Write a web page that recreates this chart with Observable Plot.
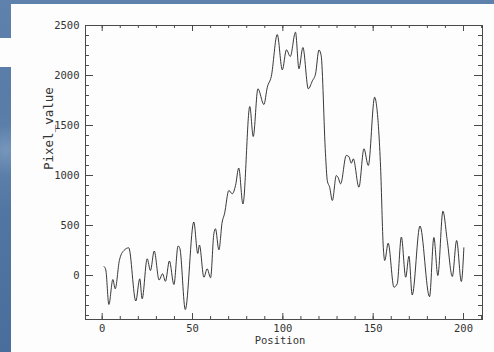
<!DOCTYPE html>
<html><head><meta charset="utf-8">
<script src="https://cdn.jsdelivr.net/npm/d3@7"></script>
<script src="https://cdn.jsdelivr.net/npm/@observablehq/plot@0.6"></script>
<style>
html,body{margin:0;padding:0;background:#fdfdfd;}
#bg{position:relative;width:494px;height:352px;overflow:hidden;
  background:radial-gradient(circle at 6px 150px,#7796bb 0,#5b7fa9 25px,rgba(0,0,0,0) 60px),linear-gradient(180deg,#5e82ac,#4a6e9b);}
#panel{position:absolute;left:11px;top:4px;right:0;bottom:0;background:#fdfdfd;}
#notch{position:absolute;left:0;top:38px;width:11px;height:29px;background:#fdfdfd;}
#chart{position:absolute;left:0;top:0;}
</style></head><body>
<div id="bg"><div id="panel"></div><div id="notch"></div><div id="chart"></div></div>
<script>
// Data (position, pixel value)
const positions = [1, 2, 3.7, 5.9, 7.2, 9.5, 12, 14.7, 18.6, 20.8, 22.1, 24.9, 26.7, 28.8, 31.5, 33.4, 35, 37.2, 39.7, 42, 43, 46, 50.7, 52.9, 53.8, 56.3, 58.1, 60, 61.8, 62.7, 64.6, 66.4, 67.7, 70.1, 72, 73.8, 75.6, 77.9, 81.7, 83.6, 86.2, 89.5, 91.4, 93.6, 96.9, 99.7, 102, 104.1, 107, 108.9, 111.1, 114.1, 116.3, 118.1, 120, 121.2, 123.6, 124.6, 125.9, 127.4, 129.6, 130.5, 132, 135.1, 136.5, 137.9, 139, 142.1, 144.9, 147.3, 150.8, 152, 154.1, 155.6, 156.4, 158.3, 161.5, 163.3, 165.6, 168, 169.8, 171.6, 175.9, 181.2, 183.6, 185.8, 188.6, 191, 193.8, 196.2, 198.8, 200.2];
const values = [90, 55, -290, -40, -133, 150, 250, 277, -255, -33, -233, 167, 50, 245, -45, 17, -58, 145, -90, 295, 270, -340, 535, 220, 305, -17, 67, -23, 417, 467, 257, 533, 617, 850, 817, 900, 1075, 715, 1690, 1390, 1867, 1710, 1883, 1990, 2410, 2057, 2257, 2190, 2433, 2067, 2280, 1867, 1945, 2017, 2255, 2200, 1217, 950, 883, 750, 1000, 983, 917, 1200, 1190, 1123, 1167, 883, 1267, 1100, 1783, 1680, 1083, 283, 150, 323, -117, -83, 385, -17, 193, -195, 495, -212, 380, 0, 643, 350, -10, 350, -60, 277];

const xMajorTicks = [0, 50, 100, 150, 200];
const yMajorTicks = [0, 500, 1000, 1500, 2000, 2500];
const xMinorTicks = d3.range(0, 211, 10);
const yMinorTicks = d3.range(-400, 2501, 100);
const xLabel = "Position";
const yLabel = "Pixel_value";

const W = 494, H = 352, mL = 85, mR = 12, mT = 25, mB = 33;
const fw = W - mL - mR, fh = H - mT - mB;
const data = positions.map((p, i) => ({position: p, value: values[i]}));
const tickColor = "#4a4a4a";

const plot = Plot.plot({
  width: W, height: H,
  marginLeft: mL, marginRight: mR, marginTop: mT, marginBottom: mB,
  style: {background: "transparent", fontFamily: "'DejaVu Sans Mono', monospace", fontSize: "10.5px", color: "#333"},
  x: {domain: [0, 200], range: [101.7, 463]},
  y: {domain: [0, 2500], range: [275, 25]},
  marks: [
    Plot.frame({stroke: tickColor}),
    // x ticks, bottom and top, inward
    Plot.tickX(xMinorTicks, {x: d => d, insetTop: fh - 3, stroke: tickColor}),
    Plot.tickX(xMinorTicks, {x: d => d, insetBottom: fh - 3, stroke: tickColor}),
    Plot.tickX(xMajorTicks, {x: d => d, insetTop: fh - 6, stroke: tickColor}),
    Plot.tickX(xMajorTicks, {x: d => d, insetBottom: fh - 6, stroke: tickColor}),
    // y ticks, left and right, inward
    Plot.tickY(yMinorTicks, {y: d => d, insetRight: fw - 4, stroke: tickColor}),
    Plot.tickY(yMinorTicks, {y: d => d, insetLeft: fw - 4, stroke: tickColor}),
    Plot.tickY(yMajorTicks, {y: d => d, insetRight: fw - 8, stroke: tickColor}),
    Plot.tickY(yMajorTicks, {y: d => d, insetLeft: fw - 8, stroke: tickColor}),
    Plot.axisX(xMajorTicks, {tickSize: 0, tickPadding: 5, tickFormat: d3.format("d"), label: null}),
    Plot.axisY(yMajorTicks, {tickSize: 0, tickPadding: 6, tickFormat: d3.format("d"), label: null}),
    Plot.line(data, {x: "position", y: "value", curve: "monotone-x", stroke: "#222", strokeWidth: 0.9}),
    Plot.text([xLabel], {text: d => d, frameAnchor: "bottom", dx: -4, dy: 24, fontSize: 10.5, fill: "#333"}),
    Plot.text([yLabel], {text: d => d, frameAnchor: "left", rotate: -90, dx: -37, dy: -2.5, fontSize: 12.5, fill: "#333"})
  ]
});
document.getElementById("chart").append(plot);
</script>
</body></html>
